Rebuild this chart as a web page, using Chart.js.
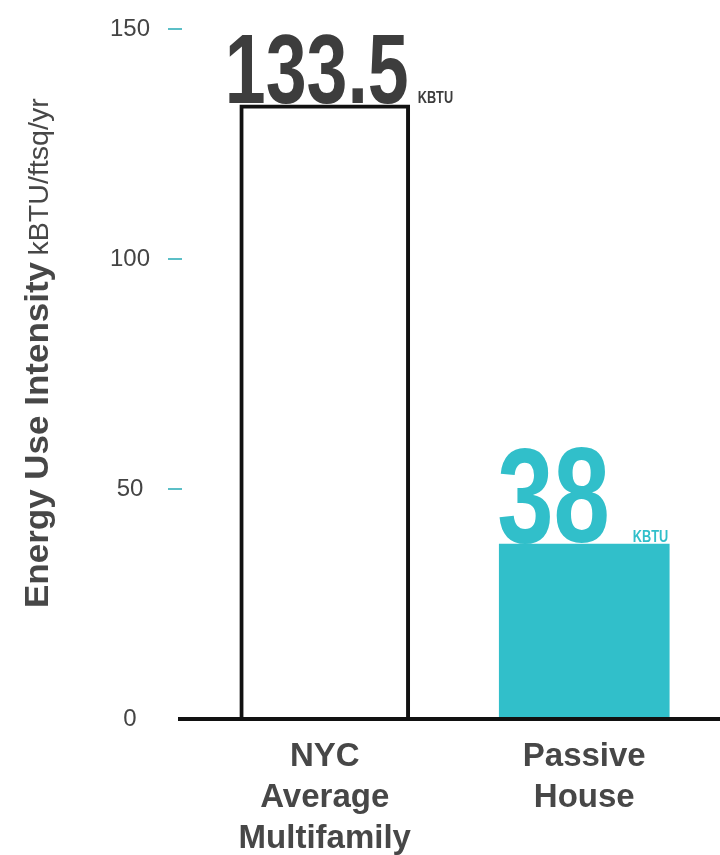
<!DOCTYPE html>
<html>
<head>
<meta charset="utf-8">
<title>Energy Use Intensity</title>
<script src="https://cdn.jsdelivr.net/npm/chart.js@4"></script>
<style>
  html, body { margin: 0; padding: 0; background: #fff; }
  #wrap { position: relative; width: 720px; height: 855px; }
</style>
</head>
<body>
<div id="wrap"><canvas id="chart"></canvas></div>
<script>
/* ── Data ── */
const categories = [['NYC', 'Average', 'Multifamily'], ['Passive', 'House']];
const values     = [133.5, 38];
const yTicks     = [0, 50, 100, 150];
const unit       = 'KBTU';
const axisTitle  = 'Energy Use Intensity';
const axisUnit   = 'kBTU/ftsq/yr';

/* ── Colours ── */
const TEAL = '#31bfca';
const DARK = '#3d3d3d';
const TEXT = '#474747';
const FONT = '"Liberation Sans", Arial, sans-serif';

/* per-bar label styling */
const numSize   = [98, 135];
const numColor  = [DARK, TEAL];
const numShift  = [-15, -2];
const unitGap   = [9, 23];
const SQUEEZE   = 0.75;

/* ── Plugin: axis title, tick dashes, baseline, value labels ── */
const decorations = {
  id: 'decorations',
  afterDatasetsDraw(chart) {
    const ctx = chart.ctx;
    const ys  = chart.scales.y;

    // teal tick dashes
    ctx.save();
    ctx.strokeStyle = '#5bbfc7';
    ctx.lineWidth = 2;
    ys.ticks.forEach(t => {
      if (!t.value) return;
      const y = ys.getPixelForValue(t.value);
      ctx.beginPath();
      ctx.moveTo(ys.right - 27, y);
      ctx.lineTo(ys.right - 13, y);
      ctx.stroke();
    });
    ctx.restore();

    // baseline
    const y0 = ys.getPixelForValue(0);
    ctx.save();
    ctx.strokeStyle = '#111';
    ctx.lineWidth = 4;
    ctx.beginPath();
    ctx.moveTo(ys.right - 17, y0);
    ctx.lineTo(chart.width, y0);
    ctx.stroke();
    ctx.restore();

    // value labels
    const meta = chart.getDatasetMeta(0);
    meta.data.forEach((bar, i) => {
      const left = bar.x - bar.width / 2;
      const txt  = String(values[i]);
      ctx.save();
      ctx.fillStyle = numColor[i];
      ctx.textAlign = 'left';
      ctx.textBaseline = 'alphabetic';
      ctx.translate(left + numShift[i], bar.y - 2);
      ctx.scale(SQUEEZE, 1);
      ctx.font = `bold ${numSize[i]}px ${FONT}`;
      ctx.fillText(txt, 0, 0);
      const w = ctx.measureText(txt).width;
      ctx.font = `bold 17px ${FONT}`;
      ctx.fillText(unit, w + unitGap[i] / SQUEEZE, 0);
      ctx.restore();
    });

    // y axis title (two sizes on one baseline)
    ctx.save();
    ctx.fillStyle = TEXT;
    ctx.textAlign = 'left';
    ctx.textBaseline = 'alphabetic';
    ctx.translate(48, 608);
    ctx.rotate(-Math.PI / 2);
    ctx.scale(1.06, 1);
    ctx.font = `bold 33px ${FONT}`;
    ctx.fillText(axisTitle, 0, 0);
    const tw = ctx.measureText(axisTitle).width;
    ctx.font = `27px ${FONT}`;
    ctx.fillText(axisUnit, tw + 6, 0);
    ctx.restore();
  }
};

/* ── Chart ── */
new Chart(document.getElementById('chart'), {
  type: 'bar',
  data: {
    labels: categories,
    datasets: [{
      data:            values,
      backgroundColor: ['#ffffff', TEAL],
      borderColor:     ['#111111', TEAL],
      borderWidth:     [4, 0],
      barThickness:    170,
    }],
  },
  options: {
    responsive: true,
    maintainAspectRatio: false,
    animation: false,
    layout: { padding: { top: 29, right: 6, left: 0, bottom: 0 } },
    plugins: { legend: { display: false }, tooltip: { enabled: false } },
    scales: {
      x: {
        afterFit: s => { s.height = 136; s.paddingLeft = 0; s.paddingRight = 0; },
        grid:   { display: false, drawTicks: false },
        border: { display: false },
        ticks: {
          padding: 18,
          maxRotation: 0,
          autoSkip: false,
          color: TEXT,
          font: { family: FONT, size: 33, weight: 'bold', lineHeight: 1.23 },
        },
      },
      y: {
        min: 0,
        max: 150,
        afterBuildTicks: s => { s.ticks = yTicks.map(v => ({ value: v })); },
        afterFit: s => { s.width = 195; s.paddingTop = 0; s.paddingBottom = 0; },
        grid:   { display: false, drawTicks: false },
        border: { display: false },
        ticks: {
          padding: 45,
          crossAlign: 'center',
          color: '#444',
          font: { family: FONT, size: 24 },
        },
      },
    },
  },
  plugins: [decorations],
});
</script>
</body>
</html>
